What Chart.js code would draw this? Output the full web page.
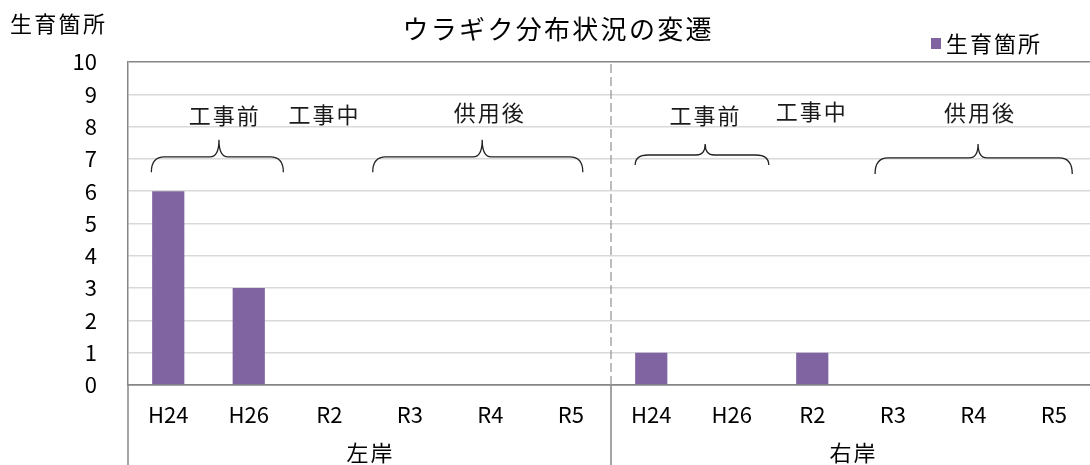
<!DOCTYPE html>
<html lang="ja">
<head>
    <meta charset="UTF-8">
    <title>ウラギク分布状況の変遷</title>
    <script src="https://cdn.jsdelivr.net/npm/chart.js"></script>
    <style>
        html, body { margin: 0; padding: 0; background: #fff; overflow: hidden; }
        #wrap { width: 1094px; height: 465px; }
    </style>
</head>
<body>
    <div id="wrap"><canvas id="uragikuChart"></canvas></div>

    <script>
        // データ
        const years = ['H24', 'H26', 'R2', 'R3', 'R4', 'R5'];
        const banks = ['左岸', '右岸'];
        const leftBank = [6, 3, 0, 0, 0, 0];
        const rightBank = [1, 0, 1, 0, 0, 0];
        const yTicks = [0, 1, 2, 3, 4, 5, 6, 7, 8, 9, 10];
        const seriesName = '生育箇所';
        const chartTitle = 'ウラギク分布状況の変遷';

        const categories = years.concat(years);
        const values = leftBank.concat(rightBank);

        // 注記（カテゴリ番号と値の座標）
        const phaseNotes = [
            { text: '工事前', x: 0.69, y: 8.33 },
            { text: '工事中', x: 1.93, y: 8.36 },
            { text: '供用後', x: 3.98, y: 8.42 },
            { text: '工事前', x: 6.66, y: 8.33 },
            { text: '工事中', x: 7.98, y: 8.45 },
            { text: '供用後', x: 10.07, y: 8.42 }
        ];
        const braces = [
            { x0: -0.21, x1: 1.43, xp: 0.63, yEnd: 6.59, yH: 7.06, yP: 7.59 },
            { x0: 2.54, x1: 5.15, xp: 3.90, yEnd: 6.59, yH: 7.06, yP: 7.59 },
            { x0: 5.80, x1: 7.46, xp: 6.67, yEnd: 6.81, yH: 7.12, yP: 7.46 },
            { x0: 8.78, x1: 11.23, xp: 10.06, yEnd: 6.53, yH: 7.03, yP: 7.46 }
        ];

        const FONT = "'Noto Sans CJK JP', 'Noto Sans', sans-serif";
        const barColor = '#8064A2';

        function spacedText(ctx, text, x, y, spacing, align) {
            ctx.letterSpacing = spacing + 'px';
            let w = ctx.measureText(text).width - spacing;
            let sx = x;
            if (align === 'center') sx = x - w / 2;
            if (align === 'right') sx = x - w;
            ctx.textAlign = 'left';
            ctx.fillText(text, sx, y);
            ctx.letterSpacing = '0px';
        }

        // 飾り（タイトル・凡例・区切り線・括弧）
        const decorations = {
            id: 'decorations',
            afterDraw(chart) {
                const ctx = chart.ctx;
                const xs = chart.scales.x;
                const ys = chart.scales.y;
                const area = chart.chartArea;
                ctx.save();

                // 左岸・右岸の区切り（破線）
                ctx.strokeStyle = '#999999';
                ctx.lineWidth = 1.3;
                ctx.setLineDash([9, 4]);
                const mid = xs.getPixelForValue(years.length - 0.5);
                ctx.beginPath();
                ctx.moveTo(mid, area.top + 2);
                ctx.lineTo(mid, area.bottom);
                ctx.stroke();
                ctx.setLineDash([]);

                // 軸下の区切り線
                ctx.strokeStyle = '#868686';
                ctx.lineWidth = 1.5;
                [-0.5, years.length - 0.5, categories.length - 0.5].forEach(v => {
                    const px = xs.getPixelForValue(v);
                    ctx.beginPath();
                    ctx.moveTo(px, area.bottom);
                    ctx.lineTo(px, chart.height);
                    ctx.stroke();
                });

                // 括弧
                ctx.strokeStyle = '#222222';
                ctx.lineWidth = 1.3;
                braces.forEach(b => {
                    const x0 = xs.getPixelForValue(b.x0);
                    const x1 = xs.getPixelForValue(b.x1);
                    const xp = xs.getPixelForValue(b.xp);
                    const ye = ys.getPixelForValue(b.yEnd);
                    const yh = ys.getPixelForValue(b.yH);
                    const yp = ys.getPixelForValue(b.yP);
                    const r = 13, r2 = 9;
                    ctx.beginPath();
                    ctx.moveTo(x0, ye);
                    ctx.quadraticCurveTo(x0, yh, x0 + r, yh);
                    ctx.lineTo(xp - r2, yh);
                    ctx.quadraticCurveTo(xp, yh, xp, yp);
                    ctx.quadraticCurveTo(xp, yh, xp + r2, yh);
                    ctx.lineTo(x1 - r, yh);
                    ctx.quadraticCurveTo(x1, yh, x1, ye);
                    ctx.stroke();
                });

                ctx.textBaseline = 'middle';
                ctx.fillStyle = '#1a1a1a';
                ctx.font = '22px ' + FONT;
                phaseNotes.forEach(n => {
                    spacedText(ctx, n.text, xs.getPixelForValue(n.x), ys.getPixelForValue(n.y), 2, 'center');
                });

                // 左岸・右岸
                ctx.fillStyle = '#000';
                banks.forEach((b, i) => {
                    const c = xs.getPixelForValue(i * years.length + (years.length - 1) / 2);
                    spacedText(ctx, b, c, 453, 2, 'center');
                });

                // タイトル
                ctx.font = '26px ' + FONT;
                spacedText(ctx, chartTitle, 557, 29, 2.3, 'center');

                // 縦軸タイトル
                ctx.font = '22px ' + FONT;
                spacedText(ctx, seriesName, 10, 24, 2.3, 'left');

                // 凡例
                ctx.fillStyle = barColor;
                ctx.fillRect(931, 38, 10, 11);
                ctx.fillStyle = '#000';
                spacedText(ctx, seriesName, 946, 44, 2, 'left');

                ctx.restore();
            }
        };

        new Chart(document.getElementById('uragikuChart'), {
            type: 'bar',
            data: {
                labels: categories,
                datasets: [{
                    label: seriesName,
                    data: values,
                    backgroundColor: barColor,
                    borderWidth: 0,
                    barPercentage: 0.4,
                    categoryPercentage: 1.0
                }]
            },
            options: {
                responsive: true,
                maintainAspectRatio: false,
                animation: false,
                layout: { padding: { top: 62, left: 0, right: 0, bottom: 0 } },
                plugins: {
                    legend: { display: false },
                    title: { display: false },
                    tooltip: { enabled: false }
                },
                scales: {
                    x: {
                        grid: { display: false },
                        border: { display: true, color: '#868686', width: 1.5 },
                        ticks: {
                            color: '#000',
                            font: { family: FONT, size: 22 },
                            padding: 8,
                            maxRotation: 0,
                            autoSkip: false
                        },
                        afterFit(scale) { scale.height = 80; }
                    },
                    y: {
                        min: 0,
                        max: 10,
                        afterBuildTicks(scale) { scale.ticks = yTicks.map(v => ({ value: v })); },
                        grid: {
                            drawTicks: false,
                            lineWidth: 1.5,
                            color: c => (c.tick && (c.tick.value === 0 || c.tick.value === 10)) ? '#868686' : '#d9d9d9'
                        },
                        border: { display: true, color: '#868686', width: 1.5 },
                        ticks: {
                            color: '#000',
                            font: { family: FONT, size: 22 },
                            padding: 31
                        },
                        afterFit(scale) { scale.width = 128; }
                    }
                }
            },
            plugins: [decorations]
        });
    </script>
</body>
</html>
